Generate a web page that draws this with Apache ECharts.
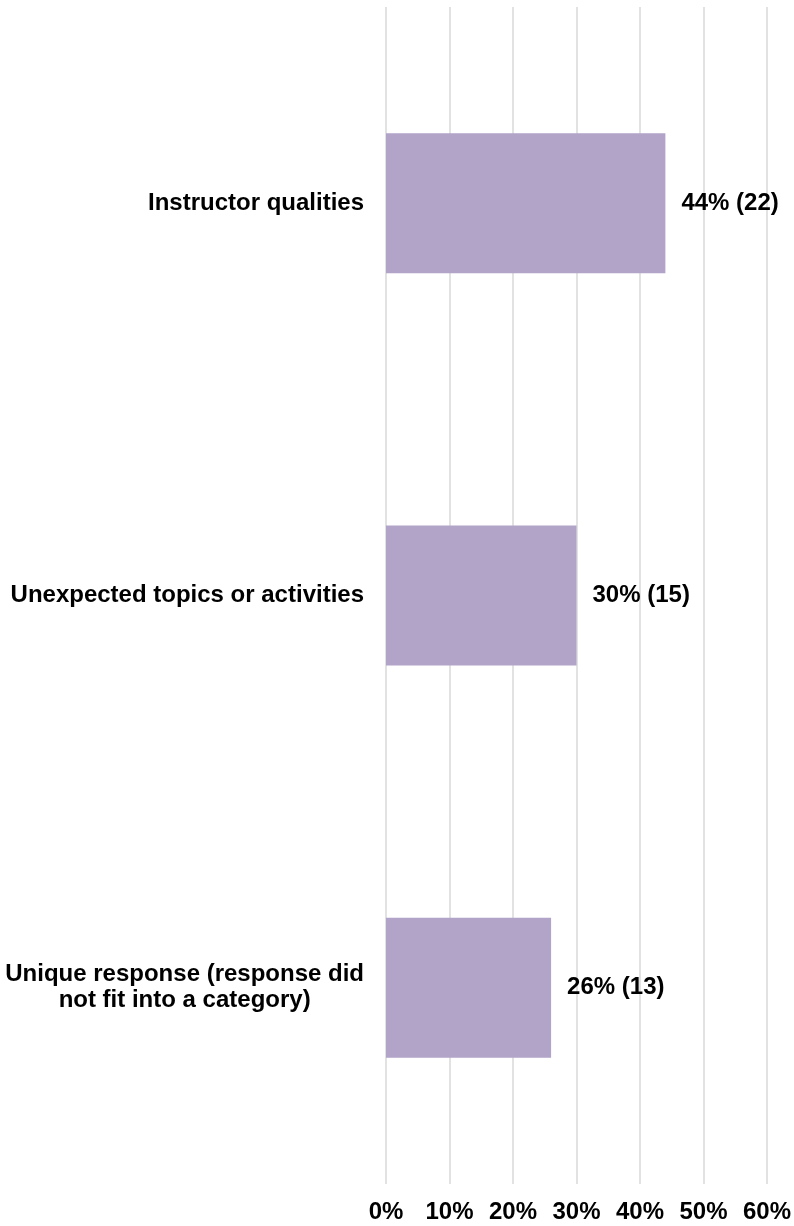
<!DOCTYPE html>
<html>
<head>
<meta charset="utf-8">
<script src="https://cdn.jsdelivr.net/npm/echarts@6/dist/echarts.min.js"></script>
<style>
html,body{margin:0;padding:0;background:#fff;}
#chart{width:794px;height:1226px;}
</style>
</head>
<body>
<div id="chart"></div>
<script>
const categories = [
  'Instructor qualities',
  'Unexpected topics or activities',
  'Unique response (response did\nnot fit into a category)'
];
const percentValues = [44, 30, 26];
const counts = [22, 15, 13];
const tickValues = { min: 0, max: 60, interval: 10 };

const FONT = '"Liberation Sans", Arial, Helvetica, sans-serif';
const chart = echarts.init(document.getElementById('chart'), null, { renderer: 'canvas' });

chart.setOption({
  backgroundColor: '#ffffff',
  animation: false,
  grid: { left: 386, right: 26, top: 7, bottom: 42, containLabel: false },
  xAxis: {
    type: 'value',
    min: tickValues.min,
    max: tickValues.max,
    interval: tickValues.interval,
    axisLine: { show: false },
    axisTick: { show: false },
    splitLine: { show: true, lineStyle: { color: '#d9d9d9', width: 1.5 } },
    axisLabel: {
      formatter: '{value}%',
      color: '#000',
      fontFamily: FONT,
      fontWeight: 'bold',
      fontSize: 24,
      margin: 16
    }
  },
  yAxis: {
    type: 'category',
    inverse: true,
    data: categories,
    axisLine: { show: false },
    axisTick: { show: false },
    splitLine: { show: false },
    axisLabel: {
      margin: 22,
      formatter: function (v) {
        return v.split('\n').map(function (l) { return '{c|' + l + '}'; }).join('\n');
      },
      rich: {
        c: {
          align: 'center',
          color: '#000',
          fontFamily: FONT,
          fontWeight: 'bold',
          fontSize: 24,
          lineHeight: 26
        }
      }
    }
  },
  series: [{
    type: 'bar',
    data: percentValues,
    barWidth: 140,
    itemStyle: { color: '#b2a3c9' },
    label: {
      show: true,
      position: 'right',
      distance: 16,
      color: '#000',
      fontFamily: FONT,
      fontWeight: 'bold',
      fontSize: 24,
      formatter: function (p) { return p.value + '% (' + counts[p.dataIndex] + ')'; }
    }
  }]
});
</script>
</body>
</html>
